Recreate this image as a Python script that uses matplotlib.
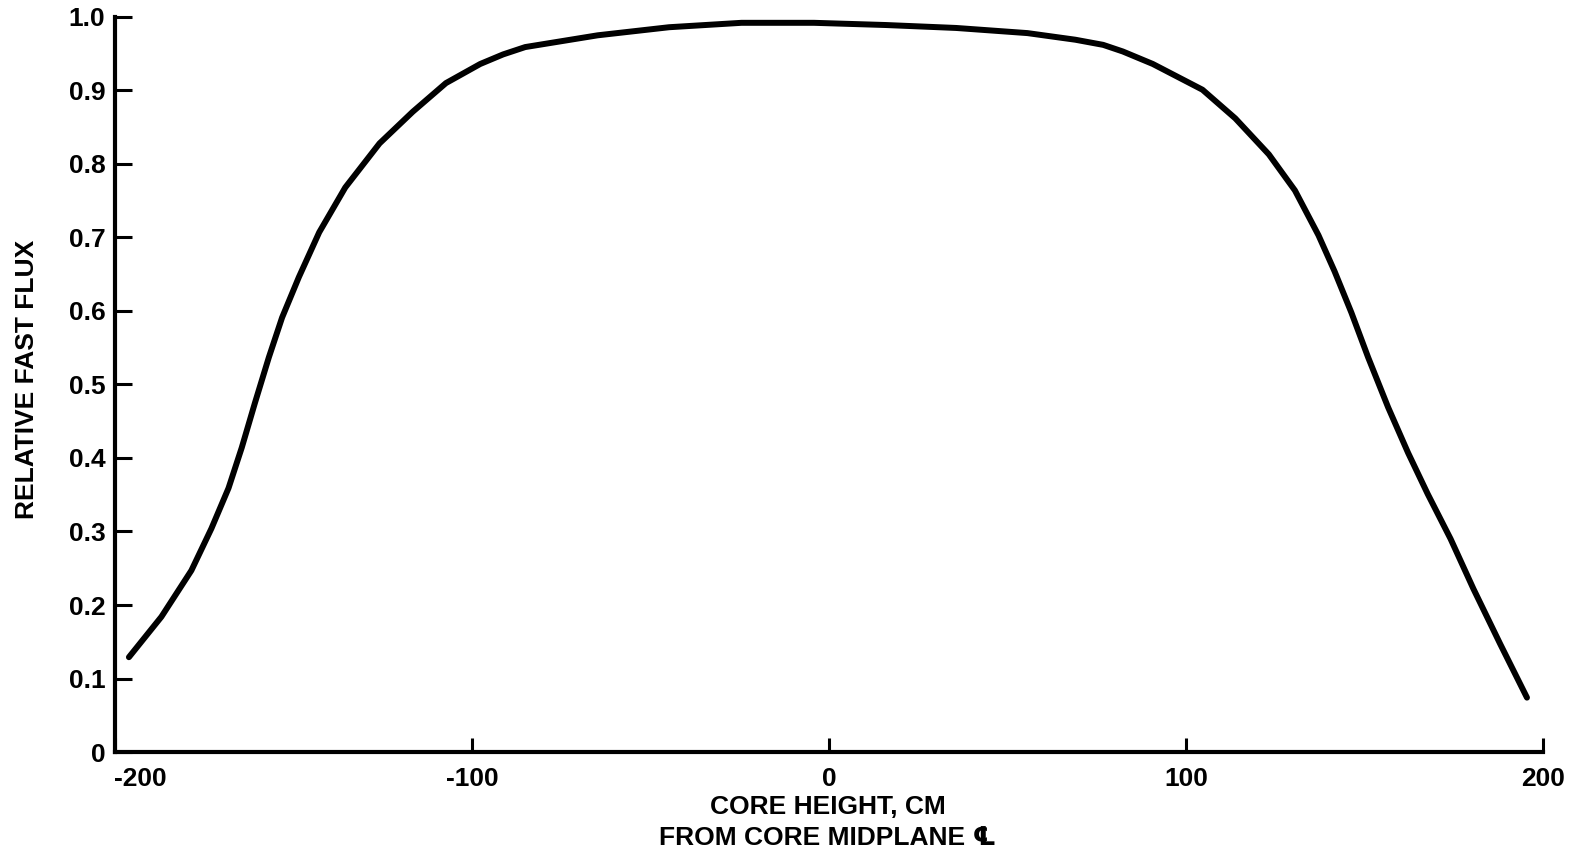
import matplotlib.pyplot as plt
from matplotlib.transforms import ScaledTranslation

# core height (cm) and relative fast flux
height = [-196.1, -187.0, -178.6, -173.0, -168.2, -164.5, -160.8, -156.9, -153.2, -148.5,
          -142.8, -135.5, -125.9, -116.6, -107.3, -97.7, -91.3, -85.1, -64.8, -44.8,
          -24.5, -4.2, 15.9, 35.6, 55.6, 69.0, 76.8, 82.3, 90.7, 104.6,
          113.8, 123.2, 130.5, 137.1, 141.6, 146.3, 151.0, 156.6, 162.2, 167.7,
          174.1, 180.5, 188.0, 195.5]
flux = [0.129, 0.184, 0.247, 0.304, 0.359, 0.414, 0.475, 0.537, 0.591, 0.646,
        0.707, 0.768, 0.828, 0.871, 0.910, 0.936, 0.949, 0.959, 0.975, 0.986,
        0.992, 0.992, 0.989, 0.985, 0.978, 0.969, 0.962, 0.953, 0.936, 0.901,
        0.862, 0.813, 0.764, 0.703, 0.654, 0.598, 0.537, 0.469, 0.407, 0.351,
        0.290, 0.222, 0.147, 0.074]

x_ticks = [-200, -100, 0, 100, 200]
x_labels = ['-200', '-100', '0', '100', '200']
y_ticks = [0, 0.1, 0.2, 0.3, 0.4, 0.5, 0.6, 0.7, 0.8, 0.9, 1.0]
y_labels = ['0', '0.1', '0.2', '0.3', '0.4', '0.5', '0.6', '0.7', '0.8', '0.9', '1.0']

plt.rcParams['font.family'] = ['Liberation Sans', 'DejaVu Sans']
plt.rcParams['font.weight'] = 'bold'

fig = plt.figure(figsize=(15.71, 8.64), dpi=100)
ax = fig.add_axes([0.0732, 0.1296, 0.9090, 0.8508])

ax.plot(height, flux, color='black', linewidth=4.3, solid_capstyle='round', solid_joinstyle='round')

ax.set_xlim(-200, 200)
ax.set_ylim(0, 1.0)
ax.spines['top'].set_visible(False)
ax.spines['right'].set_visible(False)
ax.spines['left'].set_linewidth(3)
ax.spines['bottom'].set_linewidth(3)

ax.set_xticks(x_ticks)
ax.set_xticklabels(x_labels, fontsize=19, fontweight='bold')
ax.set_yticks(y_ticks)
ax.set_yticklabels(y_labels, fontsize=19, fontweight='bold')
ax.tick_params(axis='y', direction='in', length=12, width=2.2, pad=7)
ax.tick_params(axis='x', direction='in', length=10, width=2.2, pad=11)

# the hand-lettered -200 sits to the right of its tick
lbl = ax.get_xticklabels()[0]
lbl.set_transform(lbl.get_transform() + ScaledTranslation(0.25, 0, fig.dpi_scale_trans))

fig.text(0.527, 1 - 807 / 864, 'CORE HEIGHT, CM', ha='center', va='center',
         fontsize=19, fontweight='bold')
fig.text(0.527, 1 - 838 / 864, 'FROM CORE MIDPLANE \u2104', ha='center', va='center',
         fontsize=19, fontweight='bold')
fig.text(27 / 1571, 1 - 379 / 864, 'RELATIVE FAST FLUX', ha='center', va='center',
         rotation=90, fontsize=19, fontweight='bold')

fig.savefig('out.png', dpi=100)
